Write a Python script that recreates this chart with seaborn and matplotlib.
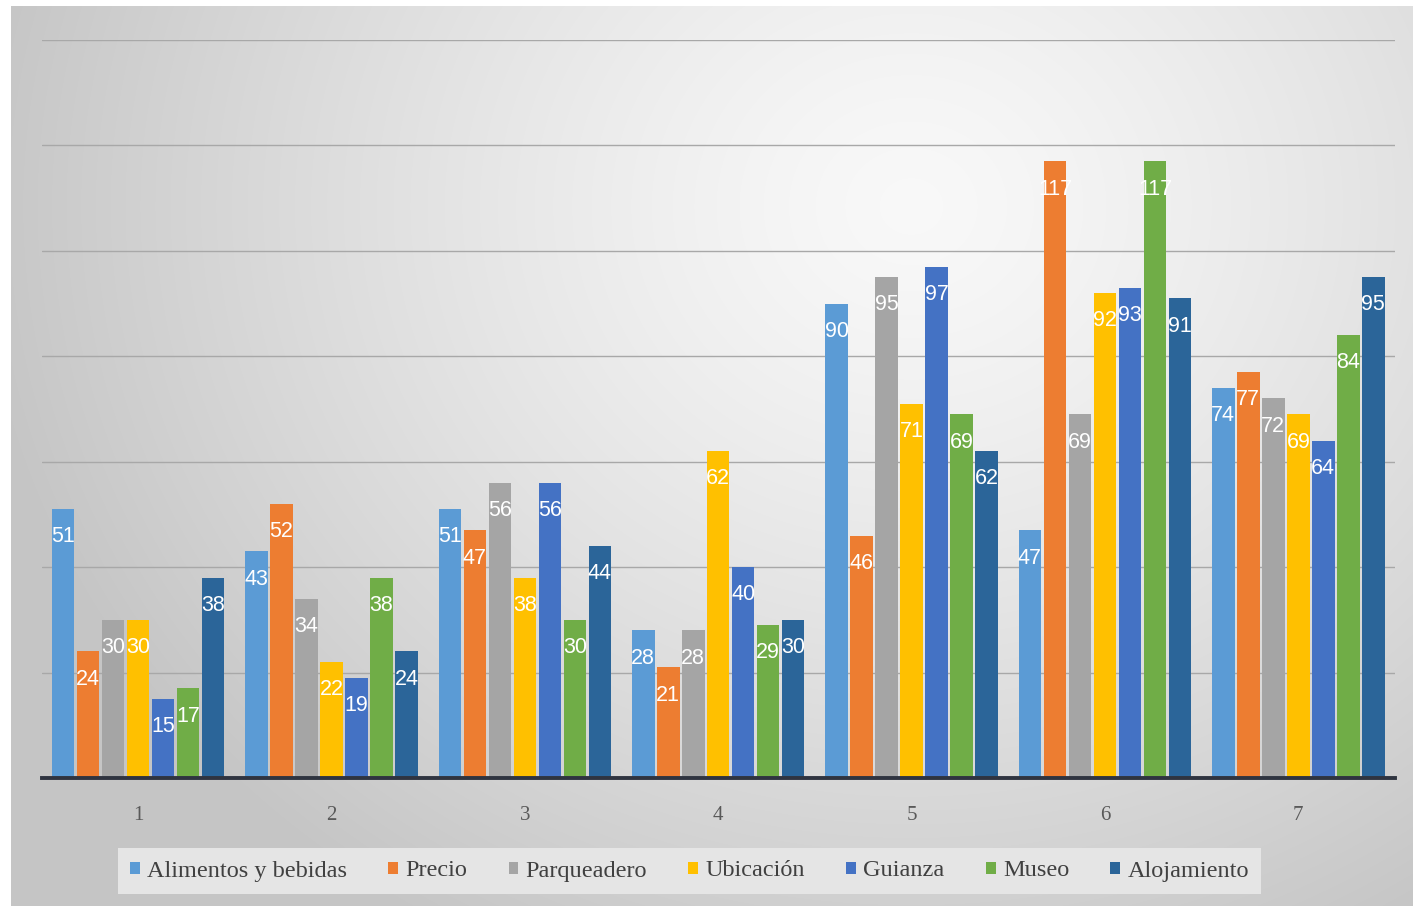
import numpy as np
import pandas as pd
import matplotlib
matplotlib.use("Agg")
import matplotlib.pyplot as plt
import seaborn as sns

categories = ["1", "2", "3", "4", "5", "6", "7"]
series = ["Alimentos y bebidas", "Precio", "Parqueadero", "Ubicación",
          "Guianza", "Museo", "Alojamiento"]
alimentos = [51, 43, 51, 28, 90, 47, 74]
precio = [24, 52, 47, 21, 46, 117, 77]
parqueadero = [30, 34, 56, 28, 95, 69, 72]
ubicacion = [30, 22, 38, 62, 71, 92, 69]
guianza = [15, 19, 56, 40, 97, 93, 64]
museo = [17, 38, 30, 29, 69, 117, 84]
alojamiento = [38, 24, 44, 30, 62, 91, 95]
colors = ["#5B9BD5", "#ED7D31", "#A5A5A5", "#FFC000", "#4472C4", "#70AD47", "#2B6599"]

values = [alimentos, precio, parqueadero, ubicacion, guianza, museo, alojamiento]
rows = []
for s, vals in zip(series, values):
    for c, v in zip(categories, vals):
        rows.append({"cat": c, "serie": s, "val": v})
df = pd.DataFrame(rows)

sns.set_theme(style="white")
W, H = 1413, 906
fig = plt.figure(figsize=(W / 100, H / 100), dpi=100)
fig.patch.set_facecolor("white")

# gradient background
bg = fig.add_axes([11 / W, 0, 1 - 11 / W, 1 - 6 / H], zorder=-5)
yy, xx = np.mgrid[0:900, 0:1402]
cx, cy = 900, 200
r = np.sqrt(((xx - cx) / 900.0) ** 2 + ((yy - cy) / 800.0) ** 2)
val = 0.975 - 0.19 * np.clip(r, 0, 1.05) ** 1.3
img = np.dstack([val, val, val])
bg.imshow(np.clip(img, 0, 1), aspect="auto", extent=[0, 1, 0, 1], origin="upper")
bg.set_axis_off()

ax = fig.add_axes([41.5 / W, 1 - 778 / H, (1395 - 41.5) / W, (778 - 40) / H])
ax.set_facecolor("none")
sns.barplot(data=df, x="cat", y="val", hue="serie", hue_order=series,
            order=categories, palette=colors, width=0.905, gap=0.1,
            saturation=1, linewidth=0, ax=ax, zorder=3)

ax.set_xlim(-0.5, 6.5)
ax.set_ylim(0, 140)
ax.set_yticks(np.arange(20, 141, 20))
ax.set_yticklabels([])
ax.yaxis.grid(True, color="#a8a8a8", linewidth=1.0, zorder=0)
ax.xaxis.grid(False)
ax.set_axisbelow(True)
for sp in ["top", "left", "right"]:
    ax.spines[sp].set_visible(False)
ax.spines["bottom"].set_color("#2f3440")
ax.spines["bottom"].set_linewidth(2.8)
ax.spines["bottom"].set_zorder(5)
ax.set_xlabel("")
ax.set_ylabel("")
ax.tick_params(axis="x", length=0, pad=20, labelsize=15, labelcolor="#595959")
ax.tick_params(axis="y", length=0)
for t in ax.get_xticklabels():
    t.set_fontfamily("Liberation Serif")

for cont in ax.containers:
    for p, v in zip(cont.patches, cont.datavalues):
        ax.annotate(f"{int(v)}", xy=(p.get_x() + p.get_width() / 2, p.get_height()),
                    xytext=(0, -20), textcoords="offset points", ha="center",
                    va="center", color="white", fontsize=15.5,
                    fontfamily="Liberation Sans", zorder=6)

handles, labels = ax.get_legend_handles_labels()
if ax.get_legend() is not None:
    ax.get_legend().remove()
leg = fig.legend(handles, labels, loc="center", bbox_to_anchor=(0.488, 1 - 871 / H),
                 ncol=7, frameon=True, facecolor="#e5e5e5", edgecolor="none",
                 fancybox=False, handlelength=0.4, handleheight=0.4,
                 handletextpad=0.3, columnspacing=1.7, borderpad=0.5,
                 prop={"family": "Liberation Serif", "size": 17.5})
for t in leg.get_texts():
    t.set_color("#404040")
leg.get_frame().set_alpha(1)

fig.savefig("out.png", dpi=100)
